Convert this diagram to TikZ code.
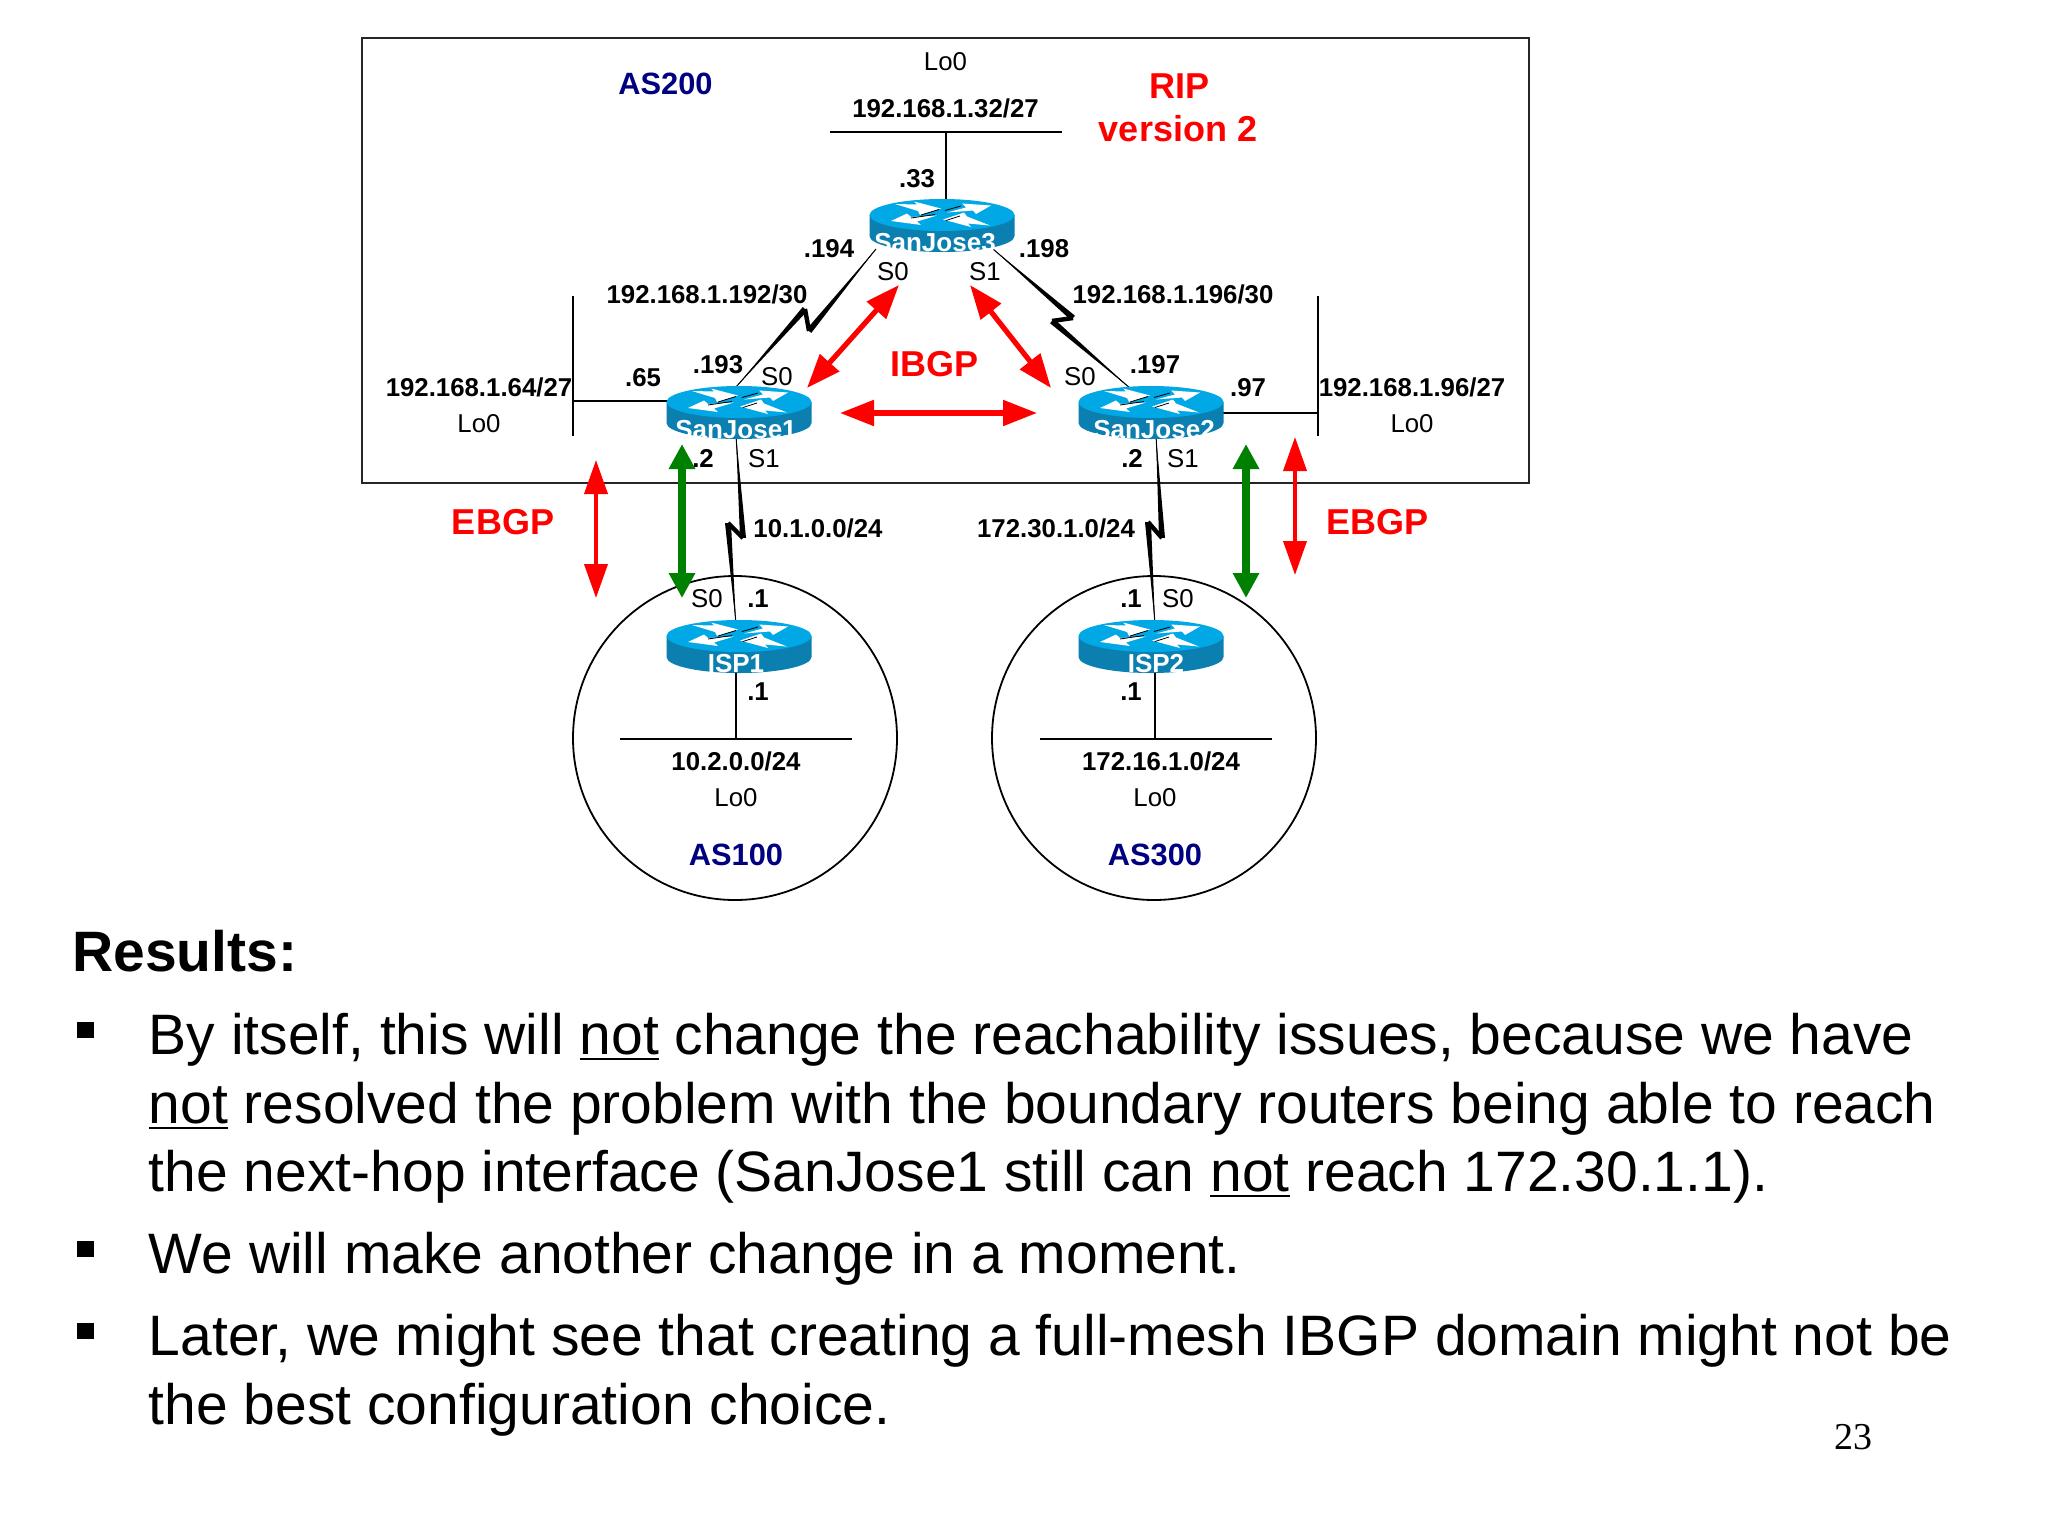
\documentclass[tikz,border=0pt]{standalone}
\usepackage{fontspec}
\setmainfont{Liberation Sans}
\newfontfamily\pageserif{Liberation Serif}
\usetikzlibrary{arrows.meta,calc}
\definecolor{rtop}{HTML}{00A8E6}
\definecolor{rbody}{HTML}{0A7FB0}
\definecolor{asblue}{HTML}{000080}
\definecolor{ebgpred}{HTML}{FF0000}
\definecolor{peergreen}{HTML}{008000}
\newcommand\ulword[1]{\setbox0=\hbox{#1}\rlap{\vrule width\wd0 height -1.9pt depth 3.1pt}\box0\relax}
\tikzset{
  lab/.style={anchor=base,inner sep=0pt,font=\fontsize{12.9}{14}\selectfont},
  blab/.style={lab,font=\fontsize{12.9}{14}\selectfont\bfseries},
  aslab/.style={anchor=base,inner sep=0pt,text=asblue,font=\fontsize{15.4}{17}\selectfont\bfseries},
  redlab/.style={anchor=base,inner sep=0pt,text=ebgpred,font=\fontsize{18}{20}\selectfont\bfseries},
  body/.style={anchor=base west,inner sep=0pt,font=\fontsize{28.5}{30}\selectfont},
  netline/.style={line width=1pt,black},
  boxline/.style={line width=1.1pt,draw=black!85},
  ibgp/.style={line width=2.6pt,ebgpred,arrows={Triangle[length=17pt,width=12.5pt]-Triangle[length=17pt,width=12.5pt]}},
  ebgp/.style={line width=1.9pt,ebgpred,arrows={Triangle[length=17pt,width=11.5pt]-Triangle[length=17pt,width=11.5pt]}},
  grn/.style={line width=3.6pt,peergreen,arrows={Triangle[length=12.5pt,width=12.5pt]-Triangle[length=12.5pt,width=12.5pt]}},
  rname/.style={anchor=base,inner sep=0pt,text=white,font=\fontsize{13}{14}\selectfont\bfseries},
  rnode/.style={inner sep=0pt,minimum width=72pt,minimum height=26.5pt}
}
% router: name, centre x, top y, label, label offset
\newcommand\router[5]{%
  \begin{scope}[shift={(#2,#3)}]
    \fill[rbody] (-72.5,16) -- (-72.5,37) arc[start angle=180,end angle=360,x radius=36.25pt,y radius=8pt] -- (72.5,16) -- cycle;
    \fill[rtop] (0,16) ellipse[x radius=36.25pt,y radius=8pt];
    \fill[white] (-47,5) -- (-25,5.5) -- (-28,2.5) -- (-1,9.5) -- (-22,16) -- (-24,12) -- cycle;
    \fill[white] (5,13.5) -- (24,8.5) -- (20,4.5) -- (49,6.5) -- (34,15) -- (31,11.5) -- cycle;
    \fill[white] (-51,22) -- (-35,14.5) -- (-31,18) -- (-5,16.5) -- (-25,22.5) -- (-21,26) -- cycle;
    \fill[white] (1,20.5) -- (22,13.5) -- (25,17.5) -- (48,26.5) -- (26,24.5) -- (29,28) -- cycle;
    \draw[black,line width=.4pt] (3,11.5) -- (19,7) (-21,16) -- (-3,10.5) (-31,19) -- (-7,15.5) (4,21.5) -- (18,17);
    \node[rname] (#1-label) at (#5,52) {#4};
    \node[rnode] (#1) at (0,26.5) {};
  \end{scope}}
% serial link: end, bolt corner, bolt corner, end
\newcommand\bolt[4]{%
  \fill[black] (#1) -- ($(#2)!1.5pt!90:(#1)$) -- ($(#2)!1.5pt!-90:(#1)$) -- cycle;
  \fill[black] (#4) -- ($(#3)!1.5pt!90:(#4)$) -- ($(#3)!1.5pt!-90:(#4)$) -- cycle;
  \draw[black,line width=.5pt] (#1) -- (#2) (#3) -- (#4);
  \draw[black,line width=2.2pt,line join=miter] (#2) -- (#3);}
\begin{document}
\begin{tikzpicture}[x=0.5pt,y=-0.5pt]
\useasboundingbox (0,0) rectangle (2048,1536);
\fill[white] (0,0) rectangle (2048,1536);
% AS regions
\draw[boxline] (362,38) rectangle (1529,483);
\draw[line width=.9pt] (735,738) circle[radius=81pt];
\draw[line width=.9pt] (1154,738) circle[radius=81pt];
% coordinates
\coordinate (b3l) at (830,132); \coordinate (b3r) at (1062,132); \coordinate (b3m) at (946,132); \coordinate (r3t) at (946,203);
\coordinate (b1t) at (573,296); \coordinate (b1b) at (573,436); \coordinate (b1m) at (573,401); \coordinate (r1l) at (668,401);
\coordinate (b2t) at (1318,296); \coordinate (b2b) at (1318,436); \coordinate (b2m) at (1318,413); \coordinate (r2r) at (1222,413);
\coordinate (b4l) at (620,739); \coordinate (b4r) at (852,739); \coordinate (b4m) at (736,739); \coordinate (r4b) at (736,670);
\coordinate (b5l) at (1040,739); \coordinate (b5r) at (1272,739); \coordinate (b5m) at (1155,739); \coordinate (r5b) at (1155,670);
\coordinate (s1a) at (876,249); \coordinate (s1b) at (809,331); \coordinate (s1c) at (805,309); \coordinate (s1d) at (736,387);
\coordinate (s2a) at (993,249); \coordinate (s2b) at (1073,318); \coordinate (s2c) at (1052,321); \coordinate (s2d) at (1131,389);
\coordinate (s3a) at (736,436); \coordinate (s3b) at (743,538); \coordinate (s3c) at (728,523); \coordinate (s3d) at (736,625);
\coordinate (s4a) at (1156,436); \coordinate (s4b) at (1162,538); \coordinate (s4c) at (1148,522); \coordinate (s4d) at (1155,625);
% Ethernet lines
\draw[netline] (b3l) -- (b3r) (b3m) -- (r3t);
\draw[netline] (b1t) -- (b1b) (b1m) -- (r1l);
\draw[netline] (b2t) -- (b2b) (b2m) -- (r2r);
\draw[netline] (b4l) -- (b4r) (b4m) -- (r4b);
\draw[netline] (b5l) -- (b5r) (b5m) -- (r5b);
% serial links
\bolt{s1a}{s1b}{s1c}{s1d}
\bolt{s2a}{s2b}{s2c}{s2d}
\bolt{s3a}{s3b}{s3c}{s3d}
\bolt{s4a}{s4b}{s4c}{s4d}
% routers
\router{sj3}{942}{199}{SanJose3}{-7}
\router{sj1}{739}{386}{SanJose1}{-3}
\router{sj2}{1151}{386}{SanJose2}{3}
\router{isp1}{739}{620}{ISP1}{-3}
\router{isp2}{1151}{620}{ISP2}{5}
% labels
\node[lab] (t1) at (945.5,70.5) {Lo0};
\node[blab] (t2) at (945.5,117.5) {192.168.1.32/27};
\node[aslab] (t3) at (665.5,95) {AS200};
\node[redlab] (t4) at (1179,98) {RIP};
\node[redlab] (t5) at (1178,141) {version 2};
\node[blab] (t6) at (917,187) {.33};
\node[blab] (t7) at (829,257) {.194};
\node[blab] (t8) at (1044,257) {.198};
\node[lab] (t9) at (893,280) {S0};
\node[lab] (t10) at (985,280) {S1};
\node[blab] (t11) at (707,303) {192.168.1.192/30};
\node[blab] (t12) at (1173,303) {192.168.1.196/30};
\node[redlab] (t13) at (934,376) {IBGP};
\node[blab] (t14) at (718,373) {.193};
\node[lab] (t15) at (777,385) {S0};
\node[blab] (t16) at (643,386) {.65};
\node[blab] (t17) at (479,396) {192.168.1.64/27};
\node[lab] (t18) at (479,432) {Lo0};
\node[blab] (t19) at (1412,396) {192.168.1.96/27};
\node[lab] (t20) at (1412,432) {Lo0};
\node[blab] (t21) at (1155,373) {.197};
\node[lab] (t22) at (1080,385) {S0};
\node[blab] (t23) at (1248,396) {.97};
\node[blab] (t24) at (703,467) {.2};
\node[lab] (t25) at (764,467) {S1};
\node[blab] (t26) at (1132,467) {.2};
\node[lab] (t27) at (1183,467) {S1};
\node[blab] (t28) at (818,537) {10.1.0.0/24};
\node[blab] (t29) at (1056,537) {172.30.1.0/24};
\node[lab] (t30) at (707,607) {S0};
\node[blab] (t31) at (758,607) {.1};
\node[blab] (t32) at (1131,607) {.1};
\node[lab] (t33) at (1178,607) {S0};
\node[blab] (t34) at (758,700) {.1};
\node[blab] (t35) at (1131,700) {.1};
\node[blab] (t36) at (736,770) {10.2.0.0/24};
\node[lab] (t37) at (736,806) {Lo0};
\node[blab] (t38) at (1161,770) {172.16.1.0/24};
\node[lab] (t39) at (1155,806) {Lo0};
\node[aslab] (t40) at (736,865) {AS100};
\node[aslab] (t41) at (1155,865) {AS300};
\node[redlab] (t42) at (503,534) {EBGP};
\node[redlab] (t43) at (1377,534) {EBGP};
% session arrows
\coordinate (i1) at (840,413); \coordinate (i2) at (1037,413);
\coordinate (i3) at (807,388); \coordinate (i4) at (899,285);
\coordinate (i5) at (970,285); \coordinate (i6) at (1051,388);
\draw[ibgp] (i1) -- (i2);
\draw[ibgp] (i3) -- (i4);
\draw[ibgp] (i5) -- (i6);
\coordinate (g1) at (682,444); \coordinate (g2) at (682,598);
\coordinate (g3) at (1246,444); \coordinate (g4) at (1246,598);
\draw[grn] (g1) -- (g2);
\draw[grn] (g3) -- (g4);
\coordinate (e1) at (596,460); \coordinate (e2) at (596,598);
\coordinate (e3) at (1295,437); \coordinate (e4) at (1295,575);
\draw[ebgp] (e1) -- (e2);
\draw[ebgp] (e3) -- (e4);
% slide text
\node[body,font=\fontsize{28.5}{30}\selectfont\bfseries] (r0) at (72,971.5) {Results:};
\node[body] (l1) at (148.5,1054) {By itself, this will \ulword{not} change the reachability issues, because we have};
\node[body] (l2) at (148.5,1123) {\ulword{not} resolved the problem with the boundary routers being able to reach};
\node[body] (l3) at (148.5,1191) {the next-hop interface (SanJose1 still can \ulword{not} reach 172.30.1.1).};
\node[body] (l4) at (148.5,1273) {We will make another change in a moment.};
\node[body] (l5) at (148.5,1355) {Later, we might see that creating a full-mesh IBGP domain might not be};
\node[body] (l6) at (148.5,1424) {the best configuration choice.};
\fill[black] (76.5,1022) rectangle (93.5,1038);
\fill[black] (76.5,1241) rectangle (93.5,1257);
\fill[black] (76.5,1323) rectangle (93.5,1339);
\node[anchor=base,inner sep=0pt,font=\pageserif\fontsize{19}{21}\selectfont] (pg) at (1853,1449) {23};
\end{tikzpicture}
\end{document}
